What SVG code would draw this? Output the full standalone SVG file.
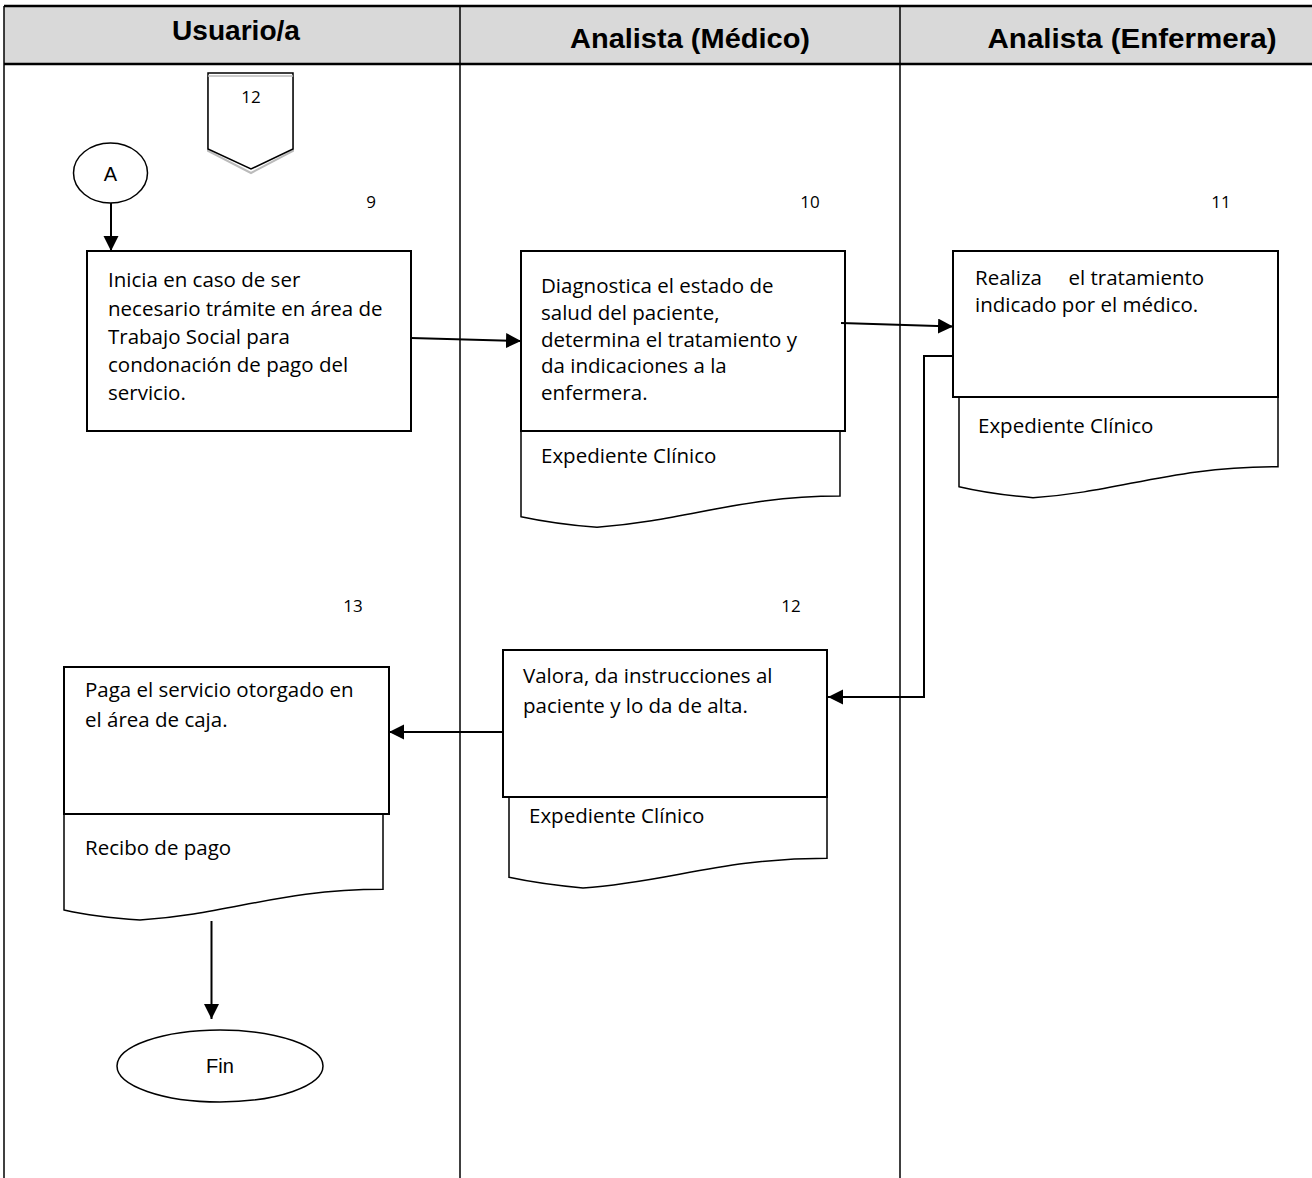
<svg xmlns="http://www.w3.org/2000/svg" width="1312" height="1178" viewBox="0 0 1312 1178">
  <style>
    .lane { stroke: #000; stroke-width: 1.5; fill: none; }
    .hdr-line { stroke: #000; stroke-width: 2.5; fill: none; }
    .hdr { font-family: "Liberation Sans", Arial, sans-serif; font-weight: bold; font-size: 28px; fill: #000; text-anchor: middle; }
    .box { fill: #fff; stroke: #000; stroke-width: 2; }
    .doc { fill: #fff; stroke: #000; stroke-width: 1.5; }
    .txt { font-family: "Open Sans", "Liberation Sans", sans-serif; font-size: 20.5px; fill: #000; }
    .num { font-family: "Open Sans", "Liberation Sans", sans-serif; font-size: 17px; fill: #000; text-anchor: middle; }
    .term { fill: #fff; stroke: #000; stroke-width: 1.5; }
    .ttxt { font-family: "Liberation Sans", Arial, sans-serif; font-size: 20px; fill: #000; text-anchor: middle; }
    .conn { stroke: #000; stroke-width: 2; fill: none; }
  </style>
  <defs>
    <marker id="arrow" markerUnits="userSpaceOnUse" markerWidth="16" markerHeight="16" refX="15" refY="7.5" orient="auto">
      <path d="M0,0 L15,7.5 L0,15 Z" fill="#000"/>
    </marker>
  </defs>

  <rect width="1312" height="1178" fill="#fff"/>

  <!-- swimlane table -->
  <g id="lanes">
    <rect x="4" y="6" width="1308" height="58" fill="#d9d9d9"/>
    <line class="hdr-line" x1="4" y1="6" x2="1312" y2="6"/>
    <line class="hdr-line" x1="4" y1="64" x2="1312" y2="64"/>
    <line class="lane" x1="4" y1="6" x2="4" y2="1178"/>
    <line class="lane" x1="460" y1="6" x2="460" y2="1178"/>
    <line class="lane" x1="900" y1="6" x2="900" y2="1178"/>
    <text class="hdr" x="236" y="40" textLength="128" lengthAdjust="spacingAndGlyphs">Usuario/a</text>
    <text class="hdr" x="690" y="48" textLength="240" lengthAdjust="spacingAndGlyphs">Analista (Médico)</text>
    <text class="hdr" x="1132" y="48" textLength="289" lengthAdjust="spacingAndGlyphs">Analista (Enfermera)</text>
  </g>

  <!-- off-page connector -->
  <g id="offpage-12">
    <path d="M208,77 V151 L251,173 L293,151 V77" fill="none" stroke="#bbb" stroke-width="2"/>
    <path d="M208,73 V149 L251,169 L293,149 V73 Z" fill="#fff" stroke="#000" stroke-width="1.5"/>
    <line x1="208" y1="76" x2="293" y2="76" stroke="#bbb" stroke-width="1.5"/>
    <text class="num" x="251" y="103">12</text>
  </g>

  <!-- connector A -->
  <g id="start-A">
    <ellipse class="term" cx="110.5" cy="173" rx="37" ry="30"/>
    <text class="ttxt" x="110.5" y="181">A</text>
  </g>

  <!-- step numbers -->
  <g id="numbers">
    <text class="num" x="371" y="208">9</text>
    <text class="num" x="810" y="208">10</text>
    <text class="num" x="1221" y="208">11</text>
    <text class="num" x="353" y="612">13</text>
    <text class="num" x="791" y="612">12</text>
  </g>

  <!-- step 9 -->
  <g id="step-9">
    <rect class="box" x="87" y="251" width="324" height="180"/>
    <text class="txt">
      <tspan x="108" y="287">Inicia en caso de ser</tspan>
      <tspan x="108" y="315.5">necesario trámite en área de</tspan>
      <tspan x="108" y="344">Trabajo Social para</tspan>
      <tspan x="108" y="372">condonación de pago del</tspan>
      <tspan x="108" y="400">servicio.</tspan>
    </text>
  </g>

  <!-- step 10 -->
  <g id="step-10">
    <path class="doc" d="M521,431 V516.7 Q555,524 597,527.3 C690,520 740,496 840,496 V431"/>
    <rect class="box" x="521" y="251" width="324" height="180"/>
    <text class="txt">
      <tspan x="541" y="293">Diagnostica el estado de</tspan>
      <tspan x="541" y="320">salud del paciente,</tspan>
      <tspan x="541" y="346.5">determina el tratamiento y</tspan>
      <tspan x="541" y="373">da indicaciones a la</tspan>
      <tspan x="541" y="400">enfermera.</tspan>
    </text>
    <text class="txt" x="541" y="463">Expediente Clínico</text>
  </g>

  <!-- step 11 -->
  <g id="step-11">
    <path class="doc" d="M959,397 V486.7 Q990,494 1033,497.7 C1120,492 1170,466.7 1278,466.7 V397"/>
    <rect class="box" x="953" y="251" width="325" height="146"/>
    <text class="txt" x="975" y="285" xml:space="preserve">Realiza     el tratamiento</text>
    <text class="txt" x="975" y="312">indicado por el médico.</text>
    <text class="txt" x="978" y="433">Expediente Clínico</text>
  </g>

  <!-- step 12 -->
  <g id="step-12">
    <path class="doc" d="M509,797 V877.3 Q540,884 583,888 C670,882 720,858.3 827,858.3 V797"/>
    <rect class="box" x="503" y="650" width="324" height="147"/>
    <text class="txt" x="523" y="683">Valora, da instrucciones al</text>
    <text class="txt" x="523" y="713">paciente y lo da de alta.</text>
    <text class="txt" x="529" y="823">Expediente Clínico</text>
  </g>

  <!-- step 13 -->
  <g id="step-13">
    <path class="doc" d="M64,814 V910 Q95,917 140,920 C230,914 280,889.3 383,889.3 V814"/>
    <rect class="box" x="64" y="667" width="325" height="147"/>
    <text class="txt" x="85" y="697">Paga el servicio otorgado en</text>
    <text class="txt" x="85" y="727">el área de caja.</text>
    <text class="txt" x="85" y="855">Recibo de pago</text>
  </g>

  <!-- end -->
  <g id="end">
    <ellipse class="term" cx="220" cy="1066" rx="103" ry="36"/>
    <text class="ttxt" x="220" y="1073">Fin</text>
  </g>

  <!-- connectors -->
  <g id="connectors">
    <line class="conn" x1="111" y1="203" x2="111" y2="251" marker-end="url(#arrow)"/>
    <line class="conn" x1="411" y1="338" x2="521" y2="341" marker-end="url(#arrow)"/>
    <line class="conn" x1="841" y1="323" x2="953" y2="326.5" marker-end="url(#arrow)"/>
    <polyline class="conn" points="953,356 924,356 924,697 828,697" marker-end="url(#arrow)"/>
    <line class="conn" x1="503" y1="732" x2="389" y2="732" marker-end="url(#arrow)"/>
    <line class="conn" x1="211.5" y1="921" x2="211.5" y2="1019" marker-end="url(#arrow)"/>
  </g>
</svg>
